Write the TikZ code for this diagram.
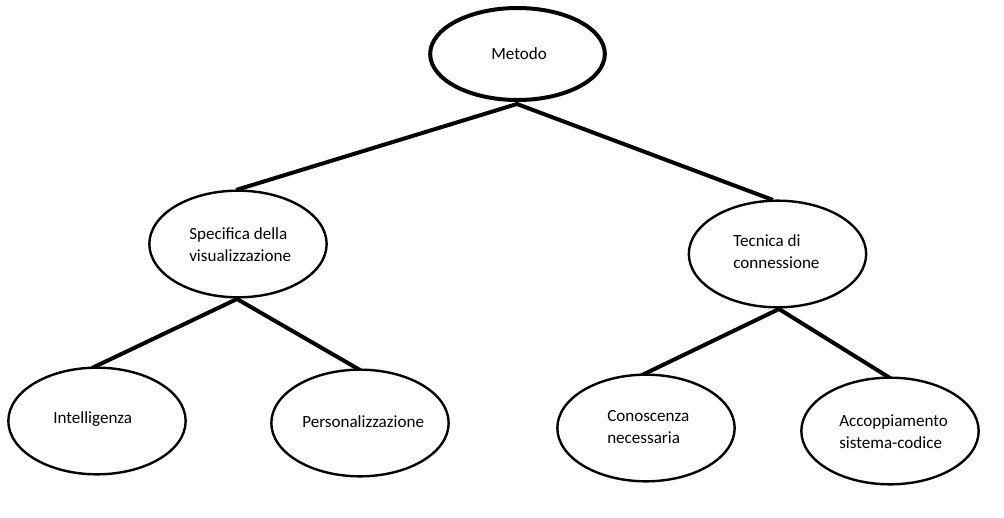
\documentclass[tikz,border=0pt]{standalone}
\usepackage{fontspec}
\setmainfont{Carlito}
\usetikzlibrary{shapes.geometric}
\begin{document}
\begin{tikzpicture}[x=0.75pt,y=-0.75pt,
  oval/.style={draw=black, ellipse, line width=1.8pt, inner sep=0pt, minimum width=133pt, minimum height=80pt, fill=white},
  bigoval/.style={oval, line width=3pt, minimum width=131pt, minimum height=69pt},
  txt/.style={font=\fontsize{12.8pt}{16.5pt}\selectfont, align=left, inner sep=0pt, text=black},
  conn/.style={line width=3pt, black}]
\useasboundingbox[fill=white] (0,0) rectangle (1004,518);
% connectors
\coordinate (mb) at (517,104);
\coordinate (st) at (236,190);
\coordinate (tt) at (773,200);
\coordinate (sb) at (237,299);
\coordinate (tb) at (779,309);
\coordinate (it) at (92,368);
\coordinate (pt) at (360,370);
\coordinate (ct) at (640,376);
\coordinate (at) at (890,378);
\draw[conn] (st) -- (mb) -- (tt);
\draw[conn] (it) -- (sb) -- (pt);
\draw[conn] (ct) -- (tb) -- (at);
% ellipses
\node[bigoval] (met) at (517.5,54) {};
\node[oval] (spec) at (238,244) {};
\node[oval] (tec) at (777.5,254) {};
\node[oval] (int) at (97,421) {};
\node[oval] (pers) at (360,423) {};
\node[oval] (con) at (646,428) {};
\node[oval] (acc) at (890,431) {};
% texts
\node[txt, anchor=base] (metT) at (519,59) {Metodo};
\node[txt, anchor=base west] (specT) at (189,261) {Specifica della\\visualizzazione};
\node[txt, anchor=base west] (tecT) at (733,268) {Tecnica di\\connessione};
\node[txt, anchor=base west] (intT) at (53,423) {Intelligenza};
\node[txt, anchor=base west] (persT) at (302,427) {Personalizzazione};
\node[txt, anchor=base west] (conT) at (607,443) {Conoscenza\\necessaria};
\node[txt, anchor=base west] (accT) at (839,448) {Accoppiamento\\sistema-codice};
\end{tikzpicture}
\end{document}
